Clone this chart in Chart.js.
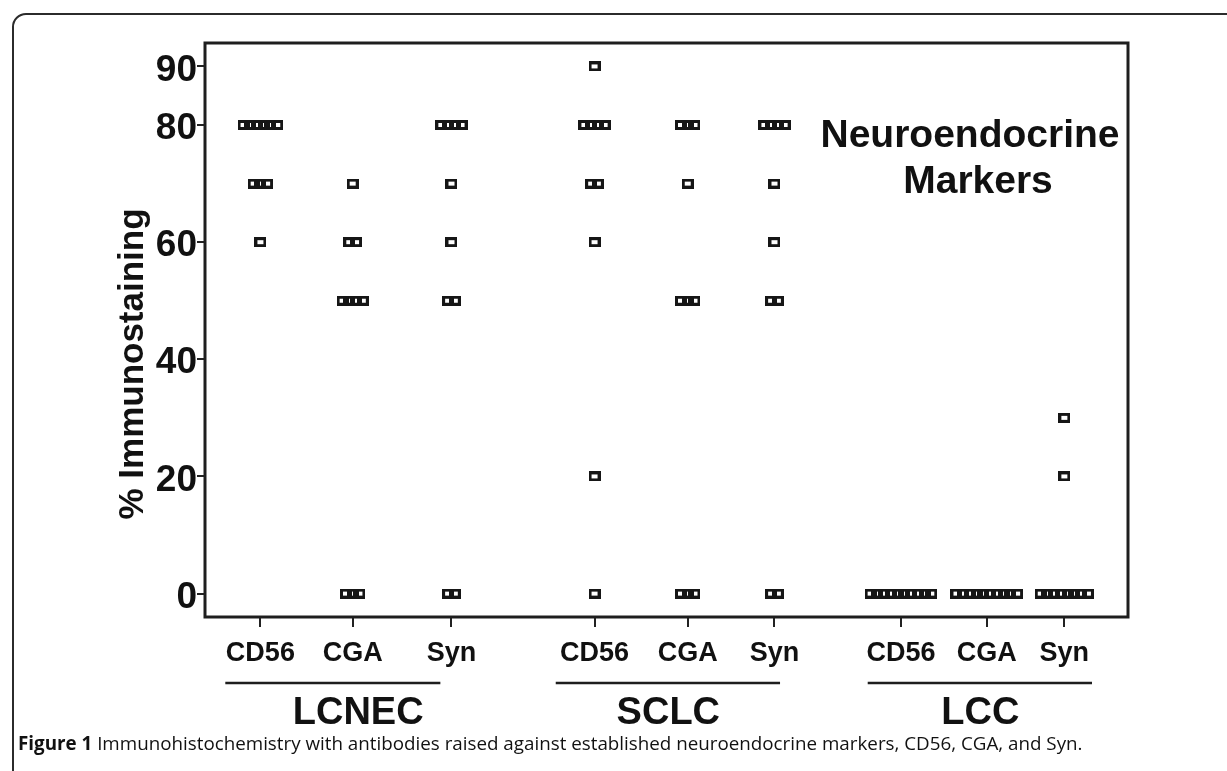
<!DOCTYPE html>
<html>
<head>
<meta charset="utf-8">
<title>Neuroendocrine markers</title>
<script src="https://cdn.jsdelivr.net/npm/chart.js@4.4.1/dist/chart.umd.min.js"></script>
<style>
  html, body { margin: 0; padding: 0; background: #fff; }
  body { width: 1227px; height: 771px; position: relative; overflow: hidden; }
  .frame {
    position: absolute; left: 12px; top: 13px; width: 1240px; height: 790px;
    border: 2px solid #2b2b2b; border-radius: 14px;
  }
  #chart { position: absolute; left: 0; top: 0; }
  .caption {
    position: absolute; left: 18px; top: 730px;
    font-family: 'Open Sans', sans-serif; font-size: 18.8px; line-height: 26px;
    color: #111; white-space: nowrap;
  }
  .caption b { font-weight: 700; }
</style>
</head>
<body>
<div class="frame"></div>
<canvas id="chart" width="1227" height="771"></canvas>
<div class="caption"><b>Figure 1</b> Immunohistochemistry with antibodies raised against established neuroendocrine markers, CD56, CGA, and Syn.</div>
<script>
// tumour types and markers along the x axis
const groups = ['LCNEC', 'SCLC', 'LCC'];
const markers = ['CD56', 'CGA', 'Syn'];
const yTicks = [0, 20, 40, 60, 80, 90];

// % immunostaining, one value per case
const lcnecCD56 = [80, 80, 80, 80, 80, 80, 70, 70, 70, 60];
const lcnecCGA  = [70, 60, 60, 50, 50, 50, 50, 0, 0, 0];
const lcnecSyn  = [80, 80, 80, 80, 70, 60, 50, 50, 0, 0];
const sclcCD56  = [90, 80, 80, 80, 80, 70, 70, 60, 20, 0];
const sclcCGA   = [80, 80, 80, 70, 50, 50, 50, 0, 0, 0];
const sclcSyn   = [80, 80, 80, 80, 70, 60, 50, 50, 0, 0];
const lccCD56   = [0, 0, 0, 0, 0, 0, 0, 0, 0, 0];
const lccCGA    = [0, 0, 0, 0, 0, 0, 0, 0, 0, 0];
const lccSyn    = [30, 20, 0, 0, 0, 0, 0, 0, 0, 0];

const columns = [lcnecCD56, lcnecCGA, lcnecSyn, sclcCD56, sclcCGA, sclcSyn, lccCD56, lccCGA, lccSyn];

// layout on the x axis (axis units, 0..10)
const columnX = [0.6, 1.6, 2.67, 4.22, 5.23, 6.17, 7.54, 8.47, 9.31];
const tieStep = 0.073;           // sideways spread for tied values
const groupSpan = [              // underline start, end, label centre
  [0.22, 2.55, 1.66],
  [3.80, 6.23, 5.02],
  [7.18, 9.61, 8.40]
];

// tied values sit side by side, centred on the column
const points = [];
columns.forEach(function (vals, c) {
  const counts = {};
  vals.forEach(function (v) { counts[v] = (counts[v] || 0) + 1; });
  const seen = {};
  vals.forEach(function (v) {
    const k = seen[v] = (seen[v] === undefined ? 0 : seen[v] + 1);
    points.push({ x: columnX[c] + (k - (counts[v] - 1) / 2) * tieStep, y: v });
  });
});

// open square marker, a bit wider than tall
const marker = document.createElement('canvas');
marker.width = 12;
marker.height = 10;
(function () {
  const m = marker.getContext('2d');
  m.strokeStyle = '#161616';
  m.lineWidth = 3;
  m.strokeRect(1.5, 1.5, 9, 7);
})();

const boldFont = "'Liberation Sans', Arial, sans-serif";

const decorations = {
  id: 'decorations',
  afterDraw(chart) {
    const ctx = chart.ctx;
    const a = chart.chartArea;
    const x = chart.scales.x;
    ctx.save();

    // box around the plot
    ctx.strokeStyle = '#1e1e1e';
    ctx.lineWidth = 3;
    ctx.strokeRect(a.left, a.top, a.right - a.left, a.bottom - a.top);

    ctx.fillStyle = '#111';

    // y axis title
    ctx.save();
    ctx.translate(133, 364);
    ctx.rotate(-Math.PI / 2);
    ctx.font = 'bold 35px ' + boldFont;
    ctx.textAlign = 'center';
    ctx.textBaseline = 'middle';
    ctx.fillText('% Immunostaining', 0, 0);
    ctx.restore();

    // in-plot heading
    ctx.font = 'bold 39px ' + boldFont;
    ctx.textAlign = 'center';
    ctx.textBaseline = 'alphabetic';
    ctx.fillText('Neuroendocrine', a.right - 158, a.top + 104);
    ctx.fillText('Markers', a.right - 150, a.top + 150);

    // tumour type under each set of markers
    ctx.lineWidth = 2.5;
    ctx.font = 'bold 38px ' + boldFont;
    groupSpan.forEach(function (g, i) {
      const y = a.bottom + 66;
      ctx.beginPath();
      ctx.moveTo(x.getPixelForValue(g[0]), y);
      ctx.lineTo(x.getPixelForValue(g[1]), y);
      ctx.stroke();
      ctx.fillText(groups[i], x.getPixelForValue(g[2]), a.bottom + 107);
    });

    ctx.restore();
  }
};

new Chart(document.getElementById('chart'), {
  type: 'scatter',
  data: {
    datasets: [{
      data: points,
      pointStyle: marker,
      pointRadius: 6,
      pointHoverRadius: 6
    }]
  },
  options: {
    responsive: false,
    animation: false,
    devicePixelRatio: 1,
    layout: { padding: { left: 0, top: 43, right: 99, bottom: 0 } },
    plugins: { legend: { display: false }, tooltip: { enabled: false } },
    scales: {
      x: {
        type: 'linear',
        min: 0,
        max: 10,
        afterFit: function (s) { s.height = 154; },
        afterBuildTicks: function (s) { s.ticks = columnX.map(function (v) { return { value: v }; }); },
        border: { display: false },
        grid: { drawOnChartArea: false, drawTicks: true, tickLength: 10, color: '#222', lineWidth: 2 },
        ticks: {
          autoSkip: false,
          maxRotation: 0,
          padding: 10,
          color: '#111',
          font: { family: boldFont, size: 27, weight: 'bold' },
          callback: function (v, i) { return markers[i % markers.length]; }
        }
      },
      y: {
        min: -4,
        max: 94,
        afterFit: function (s) { s.width = 205; },
        afterBuildTicks: function (s) { s.ticks = yTicks.map(function (v) { return { value: v }; }); },
        border: { display: false },
        grid: { drawOnChartArea: false, drawTicks: true, tickLength: 8, color: '#222', lineWidth: 2 },
        ticks: {
          padding: 0,
          labelOffset: 4,
          color: '#111',
          font: { family: boldFont, size: 37, weight: 'bold' }
        }
      }
    }
  },
  plugins: [decorations]
});
</script>
</body>
</html>
